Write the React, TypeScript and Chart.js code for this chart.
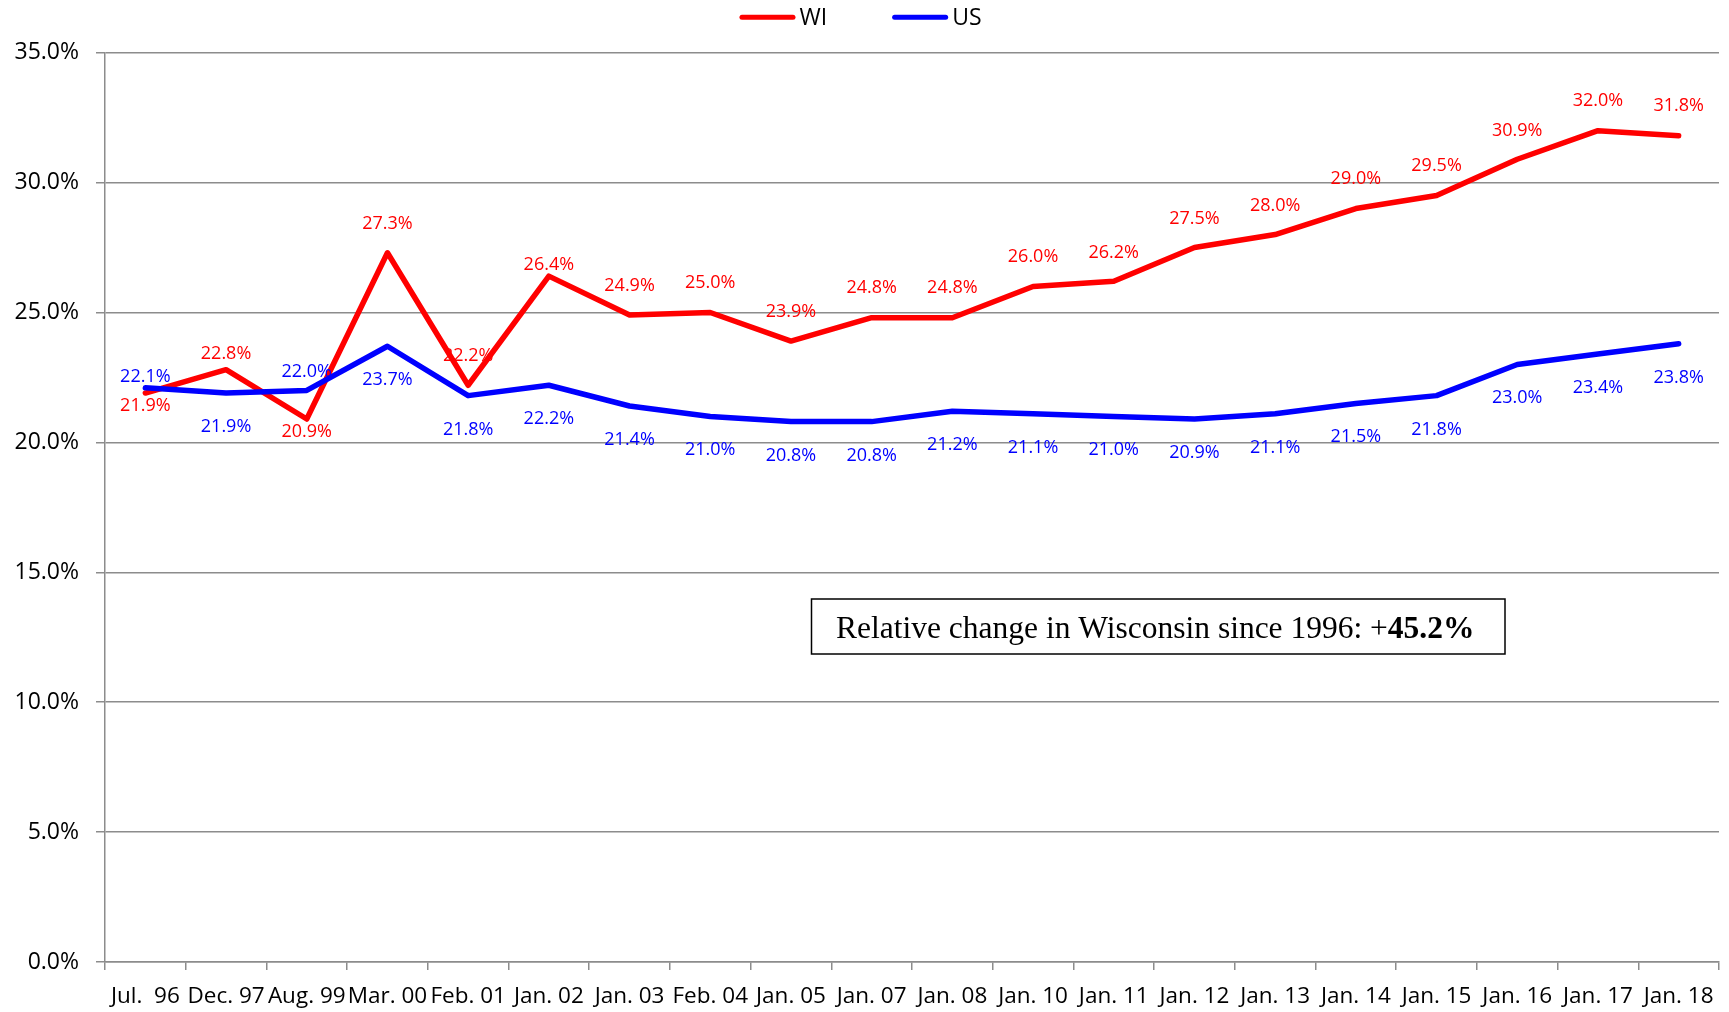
import React, { useEffect, useRef } from 'react';
import { Chart, registerables } from 'chart.js';

Chart.register(...registerables);

// ---------- data ----------
const categories = [
  'Jul.  96', 'Dec. 97', 'Aug. 99', 'Mar. 00', 'Feb. 01', 'Jan. 02', 'Jan. 03',
  'Feb. 04', 'Jan. 05', 'Jan. 07', 'Jan. 08', 'Jan. 10', 'Jan. 11', 'Jan. 12',
  'Jan. 13', 'Jan. 14', 'Jan. 15', 'Jan. 16', 'Jan. 17', 'Jan. 18',
];
const wiValues = [21.9, 22.8, 20.9, 27.3, 22.2, 26.4, 24.9, 25.0, 23.9, 24.8, 24.8, 26.0, 26.2, 27.5, 28.0, 29.0, 29.5, 30.9, 32.0, 31.8];
const usValues = [22.1, 21.9, 22.0, 23.7, 21.8, 22.2, 21.4, 21.0, 20.8, 20.8, 21.2, 21.1, 21.0, 20.9, 21.1, 21.5, 21.8, 23.0, 23.4, 23.8];
const seriesNames = ['WI', 'US'];
const yMin = 0;
const yMax = 35;
const yStep = 5;
const annotationRegular = 'Relative change in Wisconsin since 1996: +';
const annotationBold = '45.2%';

// ---------- styles ----------
const RED = '#ff0000';
const BLUE = '#0000ff';
const GRID = '#8c8c8c';
const SANS = '"Open Sans", "Noto Sans", sans-serif';
const SERIF = '"Liberation Serif", "DejaVu Serif", serif';

// vertical offset of each value label's centre from its point (px, negative = above)
const wiLabelDy = [12, -17, 11.5, -30.5, -31, -12.5, -30, -31, -30, -31, -31, -30.5, -30, -30, -30, -31, -31, -30, -31, -31];
const usLabelDy = [-12.5, 33, -19.5, 32, 33, 32, 32.5, 32, 32.5, 32.5, 32, 33, 32.5, 33, 33, 32, 33, 32, 33, 32.5];

const valueLabelPlugin = {
  id: 'valueLabels',
  afterDatasetsDraw(chart: any) {
    const ctx = chart.ctx;
    ctx.save();
    ctx.font = `18px ${SANS}`;
    ctx.textAlign = 'center';
    ctx.textBaseline = 'alphabetic';
    const offsets = [wiLabelDy, usLabelDy];
    chart.data.datasets.forEach((ds: any, i: number) => {
      const meta = chart.getDatasetMeta(i);
      ctx.fillStyle = ds.borderColor;
      meta.data.forEach((pt: any, j: number) => {
        const v = ds.data[j] as number;
        ctx.fillText(v.toFixed(1) + '%', pt.x, pt.y + offsets[i][j] + 6.4);
      });
    });
    ctx.restore();
  },
};

const legendPlugin = {
  id: 'lineLegend',
  afterDraw(chart: any) {
    const ctx = chart.ctx;
    ctx.save();
    ctx.font = `23px ${SANS}`;
    const items = chart.data.datasets.map((ds: any) => ({ text: ds.label, color: ds.borderColor }));
    const lineW = 56;
    const gapText = 4;
    const gapItem = 65;
    const widths = items.map((it: any) => lineW + gapText + ctx.measureText(it.text).width);
    const total = widths.reduce((a: number, b: number) => a + b, 0) + gapItem * (items.length - 1);
    let x = chart.width / 2 - 4 - total / 2;
    const y = 17.3;
    items.forEach((it: any, i: number) => {
      ctx.strokeStyle = it.color;
      ctx.lineWidth = 5;
      ctx.lineCap = 'round';
      ctx.beginPath();
      ctx.moveTo(x + 2.5, y);
      ctx.lineTo(x + lineW - 2.5, y);
      ctx.stroke();
      ctx.fillStyle = '#000';
      ctx.textAlign = 'left';
      ctx.textBaseline = 'middle';
      ctx.fillText(it.text, x + lineW + gapText, y + 1.2);
      x += widths[i] + gapItem;
    });
    ctx.restore();
  },
};

const annotationPlugin = {
  id: 'noteBox',
  afterDraw(chart: any) {
    const ctx = chart.ctx;
    const left = 811.5, top = 599, right = 1505, bottom = 654;
    ctx.save();
    ctx.fillStyle = '#fff';
    ctx.fillRect(left, top, right - left, bottom - top);
    ctx.strokeStyle = '#000';
    ctx.lineWidth = 1.5;
    ctx.strokeRect(left, top, right - left, bottom - top);
    const regFont = `31.5px ${SERIF}`;
    const boldFont = `bold 31.5px ${SERIF}`;
    ctx.font = regFont;
    const w1 = ctx.measureText(annotationRegular).width;
    ctx.font = boldFont;
    const w2 = ctx.measureText(annotationBold).width;
    const startX = (left + right) / 2 - 3 - (w1 + w2) / 2;
    const baseY = 638;
    ctx.fillStyle = '#000';
    ctx.textAlign = 'left';
    ctx.textBaseline = 'alphabetic';
    ctx.font = regFont;
    ctx.fillText(annotationRegular, startX, baseY);
    ctx.font = boldFont;
    ctx.fillText(annotationBold, startX + w1, baseY);
    ctx.restore();
  },
};

export default function App() {
  const canvasRef = useRef<HTMLCanvasElement | null>(null);

  useEffect(() => {
    document.body.style.margin = '0';
    document.body.style.overflow = 'hidden';
    const canvas = canvasRef.current;
    if (!canvas) return;
    const chart = new Chart(canvas, {
      type: 'line',
      data: {
        labels: categories,
        datasets: [
          {
            label: seriesNames[0],
            data: wiValues,
            borderColor: RED,
            backgroundColor: RED,
            borderWidth: 5.5,
            borderJoinStyle: 'round',
            borderCapStyle: 'round',
            pointRadius: 0,
            tension: 0,
            order: 1,
          },
          {
            label: seriesNames[1],
            data: usValues,
            borderColor: BLUE,
            backgroundColor: BLUE,
            borderWidth: 5.5,
            borderJoinStyle: 'round',
            borderCapStyle: 'round',
            pointRadius: 0,
            tension: 0,
            order: 0,
          },
        ],
      },
      options: {
        responsive: false,
        animation: false,
        devicePixelRatio: 1,
        layout: { padding: { top: 52.7, right: 10, bottom: 0, left: 0 } },
        plugins: {
          legend: { display: false },
          tooltip: { enabled: false },
          title: { display: false },
        },
        scales: {
          x: {
            type: 'category',
            offset: true,
            grid: {
              offset: true,
              drawOnChartArea: false,
              drawTicks: true,
              tickLength: 8,
              color: GRID,
              lineWidth: 1.5,
            },
            border: { display: true, color: GRID, width: 1.5 },
            ticks: {
              autoSkip: false,
              maxRotation: 0,
              minRotation: 0,
              color: '#000',
              font: { family: SANS, size: 22.5 },
              padding: 13.5,
            },
            afterFit: (scale: any) => {
              scale.height = 50;
            },
          },
          y: {
            min: yMin,
            max: yMax,
            grid: {
              color: GRID,
              lineWidth: 1.5,
              drawTicks: true,
              tickLength: 9,
            },
            border: { display: true, color: GRID, width: 1.5 },
            ticks: {
              stepSize: yStep,
              color: '#000',
              font: { family: SANS, size: 23 },
              padding: 17,
              callback: (v: any) => Number(v).toFixed(1) + '%',
            },
            afterFit: (scale: any) => {
              scale.width = 105;
            },
          },
        },
      },
      plugins: [valueLabelPlugin, legendPlugin, annotationPlugin],
    });
    return () => chart.destroy();
  }, []);

  return (
    <div style={{ width: 1729, height: 1012 }}>
      <canvas ref={canvasRef} width={1729} height={1012} style={{ display: 'block' }} />
    </div>
  );
}
